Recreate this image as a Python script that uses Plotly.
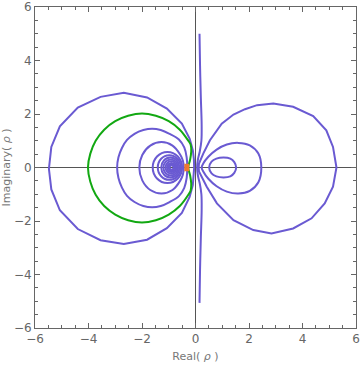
import plotly.graph_objects as go

# ---- traced contour curves (data coordinates) ----
l1_x = [-0.05, -0.06, -0.10, -0.22, -0.51, -1.07, -1.81, -2.68, -3.55, -4.40, -5.07, -5.39, -5.48,
        -5.39, -5.07, -4.40, -3.55, -2.68, -1.81, -1.07, -0.51, -0.22, -0.10, -0.06, -0.05]
l1_y = [0.0, 0.30, 0.65, 1.08, 1.64, 2.20, 2.62, 2.79, 2.64, 2.24, 1.54, 0.77, -0.05,
        -0.82, -1.60, -2.30, -2.72, -2.86, -2.70, -2.27, -1.70, -1.10, -0.66, -0.30, 0.0]

l2_x = [-0.31, -0.33, -0.42, -0.62, -0.97, -1.30, -1.62, -1.95, -2.28, -2.56, -2.75, -2.88, -2.93,
        -2.88, -2.75, -2.56, -2.28, -1.95, -1.62, -1.30, -0.97, -0.62, -0.42, -0.33, -0.31]
l2_y = [0.0, 0.38, 0.75, 1.05, 1.26, 1.40, 1.45, 1.40, 1.26, 1.03, 0.73, 0.38, 0.0,
        -0.39, -0.75, -1.06, -1.29, -1.44, -1.49, -1.44, -1.29, -1.07, -0.76, -0.39, 0.0]

l3_x = [-0.44, -0.47, -0.57, -0.86, -1.27, -1.69, -1.99, -2.10,
        -1.99, -1.69, -1.27, -0.86, -0.57, -0.47, -0.44]
l3_y = [0.0, 0.25, 0.48, 0.82, 0.95, 0.82, 0.47, 0.0,
        -0.48, -0.84, -0.97, -0.84, -0.49, -0.26, 0.0]

# inner nested contours around the node near -0.9 (left edge, right edge, half height)
nest_left = [-1.60, -1.41, -1.28, -1.20, -1.12, -1.06, -1.01, -0.97]
nest_right = [-0.50, -0.55, -0.60, -0.65, -0.70, -0.74, -0.78, -0.82]
nest_half = [0.58, 0.46, 0.37, 0.30, 0.23, 0.17, 0.12, 0.08]

green_x = [-0.27, -0.20, -0.16, -0.18, -0.268, -0.586, -1.0, -1.482, -2.0, -2.518, -3.0, -3.414,
           -3.732, -3.932, -4.02, -3.932, -3.732, -3.414, -3.0, -2.518, -2.0, -1.482, -1.0,
           -0.586, -0.268, -0.18, -0.16, -0.20, -0.27]
green_y = [0.0, 0.30, 0.60, 0.85, 1.0, 1.414, 1.732, 1.932, 2.02, 1.932, 1.732, 1.414,
           1.0, 0.518, 0.0, -0.53, -1.02, -1.44, -1.76, -1.97, -2.06, -1.97, -1.76,
           -1.44, -1.02, -0.86, -0.60, -0.30, 0.0]

v_x = [0.15, 0.17, 0.20, 0.23, 0.22, 0.16, 0.09, 0.06, 0.09, 0.16, 0.22, 0.23, 0.20, 0.17, 0.15]
v_y = [5.0, 3.8, 2.6, 1.6, 1.0, 0.6, 0.3, 0.0, -0.3, -0.6, -1.0, -1.6, -2.6, -3.8, -5.06]

r1_x = [0.12, 0.13, 0.29, 0.54, 0.98, 1.42, 1.85, 2.30, 2.91, 3.65, 4.40, 4.89, 5.14, 5.27,
        5.14, 4.83, 4.34, 3.65, 2.84, 2.16, 1.42, 0.80, 0.42, 0.24, 0.13, 0.12]
r1_y = [0.0, 0.15, 0.52, 1.02, 1.64, 1.98, 2.18, 2.33, 2.39, 2.27, 1.92, 1.39, 0.77, 0.0,
        -0.72, -1.34, -1.90, -2.28, -2.47, -2.34, -1.97, -1.34, -0.72, -0.35, -0.15, 0.0]

r2_x = [0.23, 0.29, 0.48, 0.79, 1.17, 1.60, 2.03, 2.35, 2.46,
        2.35, 2.03, 1.60, 1.17, 0.79, 0.48, 0.29, 0.23]
r2_y = [0.0, 0.15, 0.40, 0.67, 0.86, 0.92, 0.83, 0.52, 0.0,
        -0.55, -0.87, -0.97, -0.90, -0.70, -0.42, -0.15, 0.0]

r3_x = [0.51, 0.60, 0.78, 1.05, 1.30, 1.45, 1.52, 1.45, 1.30, 1.05, 0.78, 0.60, 0.51]
r3_y = [0.0, 0.22, 0.33, 0.37, 0.33, 0.20, 0.0, -0.20, -0.33, -0.37, -0.33, -0.22, 0.0]

orange_x = [[-0.37, -0.37], [-0.28, -0.28]]
orange_y = [[-0.14, 0.14], [-0.14, 0.14]]

x_ticks = [-6, -4, -2, 0, 2, 4, 6]
y_ticks = [-6, -4, -2, 0, 2, 4, 6]

PURPLE = "#6a5ad2"
GREEN = "#12a812"
ORANGE = "#f07a2a"

fig = go.Figure()

def add_curve(xs, ys, color, shape="spline", width=2):
    fig.add_trace(go.Scatter(x=xs, y=ys, mode="lines",
                             line=dict(color=color, width=width, shape=shape, smoothing=1.0),
                             hoverinfo="skip", showlegend=False))

add_curve(l1_x, l1_y, PURPLE, shape="linear")
add_curve(l2_x, l2_y, PURPLE)
add_curve(l3_x, l3_y, PURPLE)
add_curve(v_x, v_y, PURPLE)
add_curve(r1_x, r1_y, PURPLE, shape="linear")
add_curve(r2_x, r2_y, PURPLE)
add_curve(r3_x, r3_y, PURPLE)
add_curve(green_x, green_y, GREEN)
for ox, oy in zip(orange_x, orange_y):
    add_curve(ox, oy, ORANGE, shape="linear", width=2.5)

for xl, xr, h in zip(nest_left, nest_right, nest_half):
    fig.add_shape(type="circle", xref="x", yref="y", x0=xl, x1=xr, y0=-h, y1=h,
                  line=dict(color=PURPLE, width=2), layer="above")

axis_common = dict(
    range=[-6, 6], showgrid=False, zeroline=True, zerolinecolor="#555555", zerolinewidth=1,
    showline=True, linecolor="#666666", linewidth=1, mirror="ticks", automargin=False,
    ticks="inside", ticklen=5, tickcolor="#666666", tickwidth=1,
    minor=dict(ticks="inside", ticklen=3, dtick=0.5, tickcolor="#666666", tickwidth=1),
    tickfont=dict(family="DejaVu Sans", size=12, color="#666666"),
    title_font=dict(family="DejaVu Sans", size=11, color="#777777"),
)

fig.update_xaxes(tickvals=x_ticks, title_text="Real( <i>ρ</i> )", title_standoff=6,
                 **axis_common)
fig.update_yaxes(tickvals=y_ticks, title_text="Imaginary( <i>ρ</i> )", title_standoff=4,
                 **axis_common)

fig.update_layout(
    width=360, height=365,
    margin=dict(l=35, r=4, t=7, b=37),
    paper_bgcolor="white", plot_bgcolor="white",
    showlegend=False,
)

fig.write_html("out.html")
